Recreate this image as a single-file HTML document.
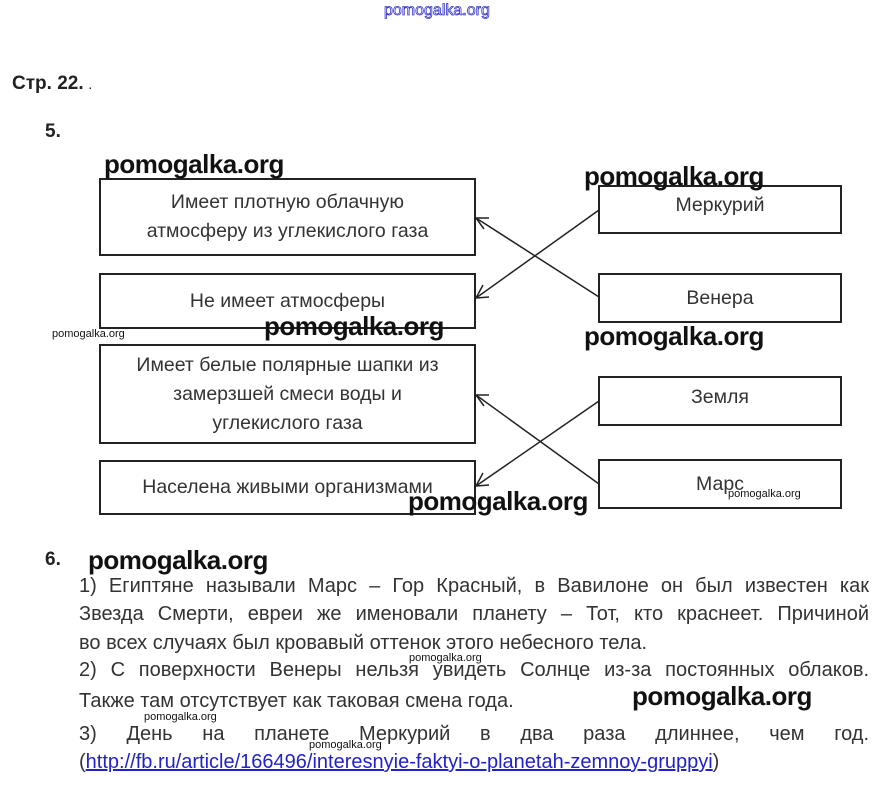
<!DOCTYPE html>
<html><head><meta charset="utf-8"><style>
body{margin:0;width:882px;height:790px;background:#fff;position:relative;overflow:hidden;font-family:"Liberation Sans",sans-serif;}
.a{position:absolute;}
.box{position:absolute;border:2px solid #222;box-sizing:border-box;display:flex;align-items:center;justify-content:center;text-align:center;font-size:19.5px;color:#333;line-height:29px;}
.wm{position:absolute;font-family:"Liberation Sans",sans-serif;font-weight:bold;color:#111;}
.big{font-size:26px;letter-spacing:-0.5px;}
.sm{font-size:11px;font-weight:normal;}
.p{position:absolute;left:79px;width:790px;font-size:20px;color:#333;text-align:justify;text-align-last:justify;line-height:28px;}
</style></head><body>
<div class="a" style="left:384px;top:2px;font-size:16px;color:#fff;-webkit-text-stroke:0.8px #33c;">pomogalka.org</div>
<div class="a" style="left:12px;top:73px;font-size:19px;font-weight:bold;color:#222;">Стр. 22. <span style="font-size:10px">.</span></div>
<div class="a" style="left:45px;top:121px;font-size:19px;font-weight:bold;color:#222;">5.</div>

<div class="box" style="left:99px;top:178px;width:377px;height:78px;">Имеет плотную облачную<br>атмосферу из углекислого газа</div>
<div class="box" style="left:99px;top:273px;width:377px;height:56px;">Не имеет атмосферы</div>
<div class="box" style="left:99px;top:344px;width:377px;height:100px;">Имеет белые полярные шапки из<br>замерзшей смеси воды и<br>углекислого газа</div>
<div class="box" style="left:99px;top:460px;width:377px;height:55px;">Населена живыми организмами</div>
<div class="box" style="left:598px;top:185px;width:244px;height:49px;padding-bottom:8px;">Меркурий</div>
<div class="box" style="left:598px;top:273px;width:244px;height:50px;">Венера</div>
<div class="box" style="left:598px;top:376px;width:244px;height:50px;padding-bottom:8px;">Земля</div>
<div class="box" style="left:598px;top:459px;width:244px;height:50px;">Марс</div>

<svg class="a" style="left:0;top:0" width="882" height="790">
<g stroke="#222" stroke-width="1.5" fill="none">
<line x1="599" y1="210" x2="476" y2="298"/>
<line x1="599" y1="297" x2="476" y2="218"/>
<line x1="599" y1="401" x2="476" y2="486"/>
<line x1="599" y1="484" x2="476" y2="395"/>
<polyline points="489,297 476,298 483,285"/>
<polyline points="484,229 476,218 489,218"/>
<polyline points="489,485 476,486 483,473"/>
<polyline points="484,406 476,395 489,395"/>
</g></svg>

<div class="wm big" style="left:104px;top:149px;">pomogalka.org</div>
<div class="wm big" style="left:584px;top:161px;">pomogalka.org</div>
<div class="wm sm" style="left:52px;top:328px;">pomogalka.org</div>
<div class="wm big" style="left:264px;top:311px;">pomogalka.org</div>
<div class="wm big" style="left:584px;top:321px;">pomogalka.org</div>
<div class="wm big" style="left:408px;top:486px;">pomogalka.org</div>
<div class="wm sm" style="left:728px;top:488px;">pomogalka.org</div>

<div class="a" style="left:45px;top:549px;font-size:19px;font-weight:bold;color:#222;">6.</div>
<div class="wm big" style="left:88px;top:545px;">pomogalka.org</div>
<div class="p" style="top:572px;">1) Египтяне называли Марс – Гор Красный, в Вавилоне он был известен как</div>
<div class="p" style="top:600px;">Звезда Смерти, евреи же именовали планету – Тот, кто краснеет. Причиной</div>
<div class="p" style="top:629px;text-align-last:left;">во всех случаях был кровавый оттенок этого небесного тела.</div>
<div class="p" style="top:656px;">2) С поверхности Венеры нельзя увидеть Солнце из-за постоянных облаков.</div>
<div class="p" style="top:687px;text-align-last:left;">Также там отсутствует как таковая смена года.</div>
<div class="p" style="top:720px;">3) День на планете Меркурий в два раза длиннее, чем год.</div>
<div class="p" style="top:748px;text-align-last:left;">(<span style="color:#22c;text-decoration:underline;">http://fb.ru/article/166496/interesnyie-faktyi-o-planetah-zemnoy-gruppyi</span>)</div>
<div class="wm sm" style="left:409px;top:652px;">pomogalka.org</div>
<div class="wm big" style="left:632px;top:681px;">pomogalka.org</div>
<div class="wm sm" style="left:144px;top:711px;">pomogalka.org</div>
<div class="wm sm" style="left:309px;top:739px;">pomogalka.org</div>
</body></html>
